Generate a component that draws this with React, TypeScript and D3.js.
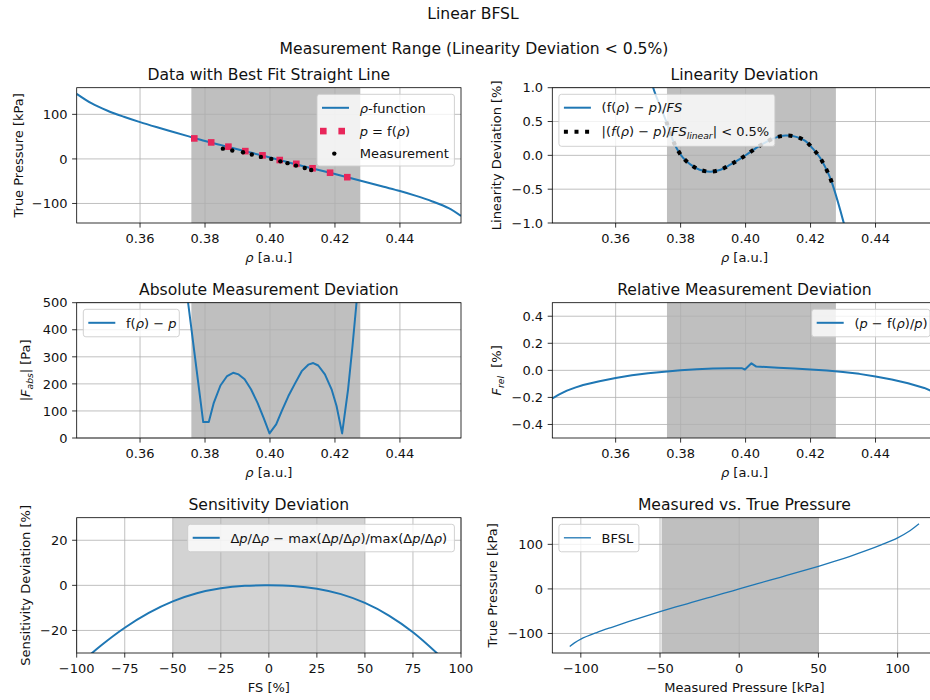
import React from 'react';
import * as d3 from 'd3';

// ---------- data ----------
const RHO_CURVE = [0.3405, 0.345, 0.35, 0.355, 0.36, 0.365, 0.37, 0.375, 0.38, 0.385, 0.39, 0.395, 0.40, 0.405, 0.41, 0.415, 0.42, 0.425, 0.43, 0.435, 0.44, 0.445, 0.45, 0.455, 0.4588];
const P_CURVE = [146, 125, 108, 94.5, 82.5, 71.5, 61, 50.5, 40, 31, 21.5, 12.5, 3, -6.5, -16, -25, -34, -43.5, -53, -62.5, -72, -83, -95.5, -110.5, -128];

const RED_RHO = [0.3767, 0.3819, 0.3872, 0.3924, 0.3977, 0.4030, 0.4081, 0.4131, 0.4185, 0.4238];
const RED_P = [46, 37, 27.5, 17.5, 8, -2.5, -11, -21, -31, -41];

const MEAS_RHO = [0.3855, 0.3884, 0.3917, 0.3944, 0.3972, 0.4004, 0.4032, 0.4054, 0.4080, 0.4107, 0.4127];
const MEAS_P = [23, 19, 15, 10, 4.5, 0, -5.5, -9.5, -15, -20.5, -25];

const LIN_RHO = [0.3700, 0.37148, 0.3756, 0.37763, 0.37886, 0.38071, 0.38308, 0.38585, 0.38914, 0.39231, 0.39529, 0.39794, 0.40062, 0.40329, 0.40615, 0.40923, 0.41231, 0.41560, 0.41837, 0.42071, 0.42277, 0.42440, 0.42585, 0.42686, 0.43015, 0.4320];
const LIN_DEV = [1.35, 1.01, 0.5, 0.222, 0.099, -0.034, -0.138, -0.212, -0.241, -0.212, -0.138, -0.064, 0.021, 0.110, 0.193, 0.262, 0.292, 0.273, 0.213, 0.099, -0.024, -0.163, -0.311, -0.444, -0.987, -1.35];

const ABS_RHO = [0.3730, 0.37473, 0.37945, 0.38116, 0.38270, 0.38475, 0.38680, 0.38864, 0.39035, 0.39219, 0.39415, 0.39617, 0.39801, 0.39985, 0.40190, 0.40364, 0.40567, 0.40772, 0.40977, 0.41179, 0.41332, 0.41485, 0.41691, 0.41896, 0.42049, 0.42221, 0.42404, 0.42539, 0.42662, 0.4280];
const ABS_DEV = [700, 506, 59, 59, 130, 194, 229, 241, 235, 217, 180, 130, 75, 17, 50, 100, 155, 202, 247, 271, 277, 268, 235, 180, 118, 17, 180, 339, 498, 700];

const REL_RHO = [0.3404, 0.3425, 0.345, 0.3475, 0.35, 0.355, 0.36, 0.365, 0.37, 0.375, 0.38, 0.385, 0.39, 0.395, 0.3988, 0.3998, 0.4018, 0.4033, 0.41, 0.415, 0.42, 0.425, 0.43, 0.435, 0.44, 0.445, 0.45, 0.455, 0.4588];
const REL_DEV = [-0.21, -0.18, -0.15, -0.128, -0.108, -0.08, -0.056, -0.037, -0.022, -0.01, 0.0, 0.008, 0.014, 0.016, 0.016, 0.006, 0.052, 0.028, 0.02, 0.014, 0.006, -0.002, -0.012, -0.026, -0.045, -0.067, -0.095, -0.13, -0.17];

const FS_PCT = [-100, -87.5, -75, -62.5, -50, -37.5, -25, -12.5, 0, 12.5, 25, 37.5, 50, 62.5, 75, 87.5, 100];
const SENS_DEV = [-36, -26.8, -18.8, -12.2, -7.1, -3.5, -1.3, -0.2, 0, -0.3, -1.5, -3.9, -7.8, -13.4, -20.8, -30.1, -40.5];

const MEASURED = [-107, -104, -100, -90, -80, -70, -60, -50, -40, -30, -20, -10, 0, 10, 20, 30, 40, 50, 60, 70, 80, 90, 100, 108, 113.5];
const TRUE_P = [-129, -121, -112.5, -98, -85.5, -73.5, -62, -51, -40.5, -30.4, -20.3, -10.2, 0, 10.1, 20.2, 30.2, 40.3, 50.7, 61.6, 73.2, 85.7, 99.4, 114.7, 131.1, 146];

const RANGE_RHO: [number, number] = [0.3758, 0.4278];
const RANGE_FS: [number, number] = [-50, 50];
const RANGE_MEAS: [number, number] = [-49, 50];

const RHO_TICKS = [0.36, 0.38, 0.40, 0.42, 0.44];
const P_TICKS = [-100, 0, 100];
const LIN_TICKS = [-1.0, -0.5, 0.0, 0.5, 1.0];
const ABS_TICKS = [0, 100, 200, 300, 400, 500];
const REL_TICKS = [-0.4, -0.2, 0.0, 0.2, 0.4];
const FS_TICKS = [-100, -75, -50, -25, 0, 25, 50, 75, 100];
const SENS_TICKS = [-20, 0, 20];
const MEAS_TICKS = [-100, -50, 0, 50, 100];

// ---------- styling ----------
const FONT = '"DejaVu Sans", Verdana, sans-serif';
const TXT = '#111';
const BLUE = '#1f77b4';
const RED = '#e8265a';
const SPAN_DARK = '#bfbfbf';
const SPAN_LIGHT = '#d3d3d3';
const AX_W = 384.3;
const AX_H = 135.3;
const FONT_SIZE = 13;
const TITLE_SIZE = 15.6;

const fmt = (v: number, d: number) => (v < -1e-12 ? '\u2212' : '') + Math.abs(v).toFixed(d);

const It = ({ children }: { children: React.ReactNode }) => <tspan fontStyle="italic">{children}</tspan>;

type AxProps = {
  id: string; left: number; top: number;
  xDomain: [number, number]; yDomain: [number, number];
  xTicks: number[]; yTicks: number[]; xDigits: number; yDigits: number;
  title: string; xlabel: React.ReactNode; ylabel: React.ReactNode; ylabelOffset: number;
  span?: [number, number]; spanColor?: string;
  render: (x: d3.ScaleLinear<number, number>, y: d3.ScaleLinear<number, number>) => React.ReactNode;
  legend?: React.ReactNode;
};

function Axes(p: AxProps) {
  const { id, left, top } = p;
  const x = d3.scaleLinear().domain(p.xDomain).range([left, left + AX_W]);
  const y = d3.scaleLinear().domain(p.yDomain).range([top + AX_H, top]);
  const bottom = top + AX_H;
  const right = left + AX_W;
  return (
    <g>
      <defs>
        <clipPath id={id}><rect x={left} y={top} width={AX_W} height={AX_H} /></clipPath>
      </defs>
      <rect x={left} y={top} width={AX_W} height={AX_H} fill="#fff" />
      {p.span && (
        <rect x={x(p.span[0])} y={top} width={x(p.span[1]) - x(p.span[0])} height={AX_H} fill={p.spanColor} />
      )}
      <g stroke="#b0b0b0" strokeWidth={0.8}>
        {p.xTicks.map((t) => <line key={'gx' + t} x1={x(t)} x2={x(t)} y1={top} y2={bottom} />)}
        {p.yTicks.map((t) => <line key={'gy' + t} x1={left} x2={right} y1={y(t)} y2={y(t)} />)}
      </g>
      <g clipPath={`url(#${id})`}>{p.render(x, y)}</g>
      <rect x={left} y={top} width={AX_W} height={AX_H} fill="none" stroke="#000" strokeWidth={0.8} />
      <g stroke="#000" strokeWidth={0.8}>
        {p.xTicks.map((t) => <line key={'tx' + t} x1={x(t)} x2={x(t)} y1={bottom} y2={bottom + 4.6} />)}
        {p.yTicks.map((t) => <line key={'ty' + t} x1={left - 4.6} x2={left} y1={y(t)} y2={y(t)} />)}
      </g>
      {p.xTicks.map((t) => (
        <text key={'lx' + t} x={x(t)} y={bottom + 19.5} textAnchor="middle">{fmt(t, p.xDigits)}</text>
      ))}
      {p.yTicks.map((t) => (
        <text key={'ly' + t} x={left - 9.2} y={y(t) + 4.7} textAnchor="end">{fmt(t, p.yDigits)}</text>
      ))}
      <text x={(left + right) / 2} y={top - 8} textAnchor="middle" fontSize={TITLE_SIZE}>{p.title}</text>
      <text x={(left + right) / 2} y={bottom + 38.5} textAnchor="middle">{p.xlabel}</text>
      <text transform={`translate(${left - p.ylabelOffset},${top + AX_H / 2}) rotate(-90)`} textAnchor="middle">
        {p.ylabel}
      </text>
      {p.legend}
    </g>
  );
}

type Row = { kind: 'line' | 'thin' | 'squares' | 'dot' | 'dotted'; label: React.ReactNode; dy: number };

function Legend({ x, y, w, h, rows }: { x: number; y: number; w: number; h: number; rows: Row[] }) {
  return (
    <g>
      <rect x={x} y={y} width={w} height={h} rx={2.6} fill="#fff" fillOpacity={0.8} stroke="#cccccc" strokeWidth={0.9} />
      {rows.map((r, i) => {
        const cy = y + r.dy;
        const hx = x + 5;
        const hl = 27;
        let handle: React.ReactNode = null;
        if (r.kind === 'line') handle = <line x1={hx} x2={hx + hl} y1={cy} y2={cy} stroke={BLUE} strokeWidth={2} />;
        if (r.kind === 'thin') handle = <line x1={hx} x2={hx + hl} y1={cy} y2={cy} stroke={BLUE} strokeWidth={1.3} />;
        if (r.kind === 'dotted')
          handle = <line x1={hx} x2={hx + hl} y1={cy} y2={cy} stroke="#000" strokeWidth={4} strokeDasharray="4 6.6" />;
        if (r.kind === 'squares')
          handle = (
            <g fill={RED}>
              <rect x={x + 6.3 - 3.3} y={cy - 3.3} width={6.6} height={6.6} />
              <rect x={x + 24.7 - 3.3} y={cy - 3.3} width={6.6} height={6.6} />
            </g>
          );
        if (r.kind === 'dot') handle = <circle cx={x + 17.3} cy={cy} r={2.2} fill="#000" />;
        return (
          <g key={i}>
            {handle}
            <text x={x + 42.7} y={cy + 4.7}>{r.label}</text>
          </g>
        );
      })}
    </g>
  );
}

const LEFTS = [76.7, 552.3];
const TOPS = [87.7, 302.7, 517.7];

export default function App() {
  const rhoDomain: [number, number] = [0.3405, 0.4588];
  const pDomain: [number, number] = [-143.8, 159.8];
  const smooth = d3.curveCatmullRom.alpha(0.5);

  const lineOf = (xs: number[], ys: number[], x: any, y: any, curve: any = smooth) =>
    d3.line<number>().x((_, i) => x(xs[i])).y((_, i) => y(ys[i])).curve(curve)(xs) || '';

  const dotIdx = LIN_DEV.map((v, i) => i).filter((i) => Math.abs(LIN_DEV[i]) <= 0.5);
  const DOT_RHO = dotIdx.map((i) => LIN_RHO[i]);
  const DOT_DEV = dotIdx.map((i) => LIN_DEV[i]);

  return (
    <svg
      width={930}
      height={700}
      style={{ position: 'absolute', left: 0, top: 0, background: '#fff' }}
      fontFamily={FONT}
      fontSize={FONT_SIZE}
      fill={TXT}
    >
      <rect x={0} y={0} width={930} height={700} fill="#fff" />
      <text x={473} y={18.5} textAnchor="middle" fontSize={TITLE_SIZE}>Linear BFSL</text>
      <text x={474} y={54} textAnchor="middle" fontSize={TITLE_SIZE}>Measurement Range (Linearity Deviation &lt; 0.5%)</text>

      {/* 1: Data with Best Fit Straight Line */}
      <Axes
        id="c1" left={LEFTS[0]} top={TOPS[0]} xDomain={rhoDomain} yDomain={pDomain}
        xTicks={RHO_TICKS} yTicks={P_TICKS} xDigits={2} yDigits={0}
        title="Data with Best Fit Straight Line"
        xlabel={<><It>ρ</It> [a.u.]</>}
        ylabel="True Pressure [kPa]" ylabelOffset={54.2}
        span={RANGE_RHO} spanColor={SPAN_DARK}
        render={(x, y) => (
          <g>
            <path d={lineOf(RHO_CURVE, P_CURVE, x, y)} fill="none" stroke={BLUE} strokeWidth={2} />
            {RED_RHO.map((r, i) => (
              <rect key={'r' + i} x={x(r) - 3.3} y={y(RED_P[i]) - 3.3} width={6.6} height={6.6} fill={RED} />
            ))}
            {MEAS_RHO.map((r, i) => (
              <circle key={'m' + i} cx={x(r)} cy={y(MEAS_P[i])} r={2.2} fill="#000" />
            ))}
          </g>
        )}
        legend={
          <Legend
            x={317} y={94.3} w={137.4} h={71.7}
            rows={[
              { kind: 'line', label: <><It>ρ</It>-function</>, dy: 13.5 },
              { kind: 'squares', label: <><It>p</It> = f(<It>ρ</It>)</>, dy: 36.8 },
              { kind: 'dot', label: 'Measurement', dy: 59.3 },
            ]}
          />
        }
      />

      {/* 2: Linearity Deviation */}
      <Axes
        id="c2" left={LEFTS[1]} top={TOPS[0]} xDomain={rhoDomain} yDomain={[-1, 1]}
        xTicks={RHO_TICKS} yTicks={LIN_TICKS} xDigits={2} yDigits={1}
        title="Linearity Deviation"
        xlabel={<><It>ρ</It> [a.u.]</>}
        ylabel="Linearity Deviation [%]" ylabelOffset={51.8}
        span={RANGE_RHO} spanColor={SPAN_DARK}
        render={(x, y) => (
          <g>
            <path d={lineOf(LIN_RHO, LIN_DEV, x, y)} fill="none" stroke={BLUE} strokeWidth={2} />
            <path d={lineOf(DOT_RHO, DOT_DEV, x, y)} fill="none" stroke="#000" strokeWidth={4} strokeDasharray="4 6.6" />
          </g>
        )}
        legend={
          <Legend
            x={558.9} y={94.3} w={216} h={52}
            rows={[
              { kind: 'line', label: <>(f(<It>ρ</It>) − <It>p</It>)/<It>FS</It></>, dy: 13.4 },
              {
                kind: 'dotted',
                label: (
                  <>
                    |(<It>f</It>(<It>ρ</It>) − <It>p</It>)/<It>FS</It>
                    <tspan fontStyle="italic" fontSize={9.2} dy={3}>linear</tspan>
                    <tspan dy={-3}>| &lt; 0.5%</tspan>
                  </>
                ),
                dy: 37.4,
              },
            ]}
          />
        }
      />

      {/* 3: Absolute Measurement Deviation */}
      <Axes
        id="c3" left={LEFTS[0]} top={TOPS[1]} xDomain={rhoDomain} yDomain={[0, 500]}
        xTicks={RHO_TICKS} yTicks={ABS_TICKS} xDigits={2} yDigits={0}
        title="Absolute Measurement Deviation"
        xlabel={<><It>ρ</It> [a.u.]</>}
        ylabel={
          <>
            |<It>F</It>
            <tspan fontStyle="italic" fontSize={9.2} dy={3}>abs</tspan>
            <tspan dy={-3}>| [Pa]</tspan>
          </>
        }
        ylabelOffset={46.5}
        span={RANGE_RHO} spanColor={SPAN_DARK}
        render={(x, y) => (
          <path d={lineOf(ABS_RHO, ABS_DEV, x, y, d3.curveLinear)} fill="none" stroke={BLUE} strokeWidth={2} strokeLinejoin="round" />
        )}
        legend={
          <Legend
            x={83.3} y={309.3} w={96} h={27.5}
            rows={[{ kind: 'line', label: <>f(<It>ρ</It>) − <It>p</It></>, dy: 13.5 }]}
          />
        }
      />

      {/* 4: Relative Measurement Deviation */}
      <Axes
        id="c4" left={LEFTS[1]} top={TOPS[1]} xDomain={rhoDomain} yDomain={[-0.5, 0.5]}
        xTicks={RHO_TICKS} yTicks={REL_TICKS} xDigits={2} yDigits={1}
        title="Relative Measurement Deviation"
        xlabel={<><It>ρ</It> [a.u.]</>}
        ylabel={
          <>
            <It>F</It>
            <tspan fontStyle="italic" fontSize={9.2} dy={3}>rel</tspan>
            <tspan dy={-3}>{'\u00a0 [%]'}</tspan>
          </>
        }
        ylabelOffset={51.8}
        span={RANGE_RHO} spanColor={SPAN_DARK}
        render={(x, y) => (
          <path d={lineOf(REL_RHO, REL_DEV, x, y, d3.curveLinear)} fill="none" stroke={BLUE} strokeWidth={2} strokeLinejoin="round" />
        )}
        legend={
          <Legend
            x={811.7} y={309.3} w={118.3} h={27.5}
            rows={[{ kind: 'line', label: <>(<It>p</It> − f(<It>ρ</It>)/<It>p</It>)</>, dy: 13.5 }]}
          />
        }
      />

      {/* 5: Sensitivity Deviation */}
      <Axes
        id="c5" left={LEFTS[0]} top={TOPS[2]} xDomain={[-100, 100]} yDomain={[-30, 30]}
        xTicks={FS_TICKS} yTicks={SENS_TICKS} xDigits={0} yDigits={0}
        title="Sensitivity Deviation"
        xlabel="FS [%]"
        ylabel="Sensitivity Deviation [%]" ylabelOffset={47.2}
        span={RANGE_FS} spanColor={SPAN_LIGHT}
        render={(x, y) => (
          <path d={lineOf(FS_PCT, SENS_DEV, x, y)} fill="none" stroke={BLUE} strokeWidth={2} />
        )}
        legend={
          <Legend
            x={187.7} y={524.3} w={266.7} h={27.5}
            rows={[
              {
                kind: 'line',
                label: <>Δ<It>p</It>/Δ<It>ρ</It> − max(Δ<It>p</It>/Δ<It>ρ</It>)/max(Δ<It>p</It>/Δ<It>ρ</It>)</>,
                dy: 13.5,
              },
            ]}
          />
        }
      />

      {/* 6: Measured vs. True Pressure */}
      <Axes
        id="c6" left={LEFTS[1]} top={TOPS[2]} xDomain={[-118, 124.6]} yDomain={pDomain}
        xTicks={MEAS_TICKS} yTicks={P_TICKS} xDigits={0} yDigits={0}
        title="Measured vs. True Pressure"
        xlabel="Measured Pressure [kPa]"
        ylabel="True Pressure [kPa]" ylabelOffset={55.8}
        span={RANGE_MEAS} spanColor={SPAN_DARK}
        render={(x, y) => (
          <path d={lineOf(MEASURED, TRUE_P, x, y)} fill="none" stroke={BLUE} strokeWidth={1.3} />
        )}
        legend={
          <Legend
            x={558.9} y={524.3} w={80} h={27.5}
            rows={[{ kind: 'thin', label: 'BFSL', dy: 13.5 }]}
          />
        }
      />
    </svg>
  );
}
